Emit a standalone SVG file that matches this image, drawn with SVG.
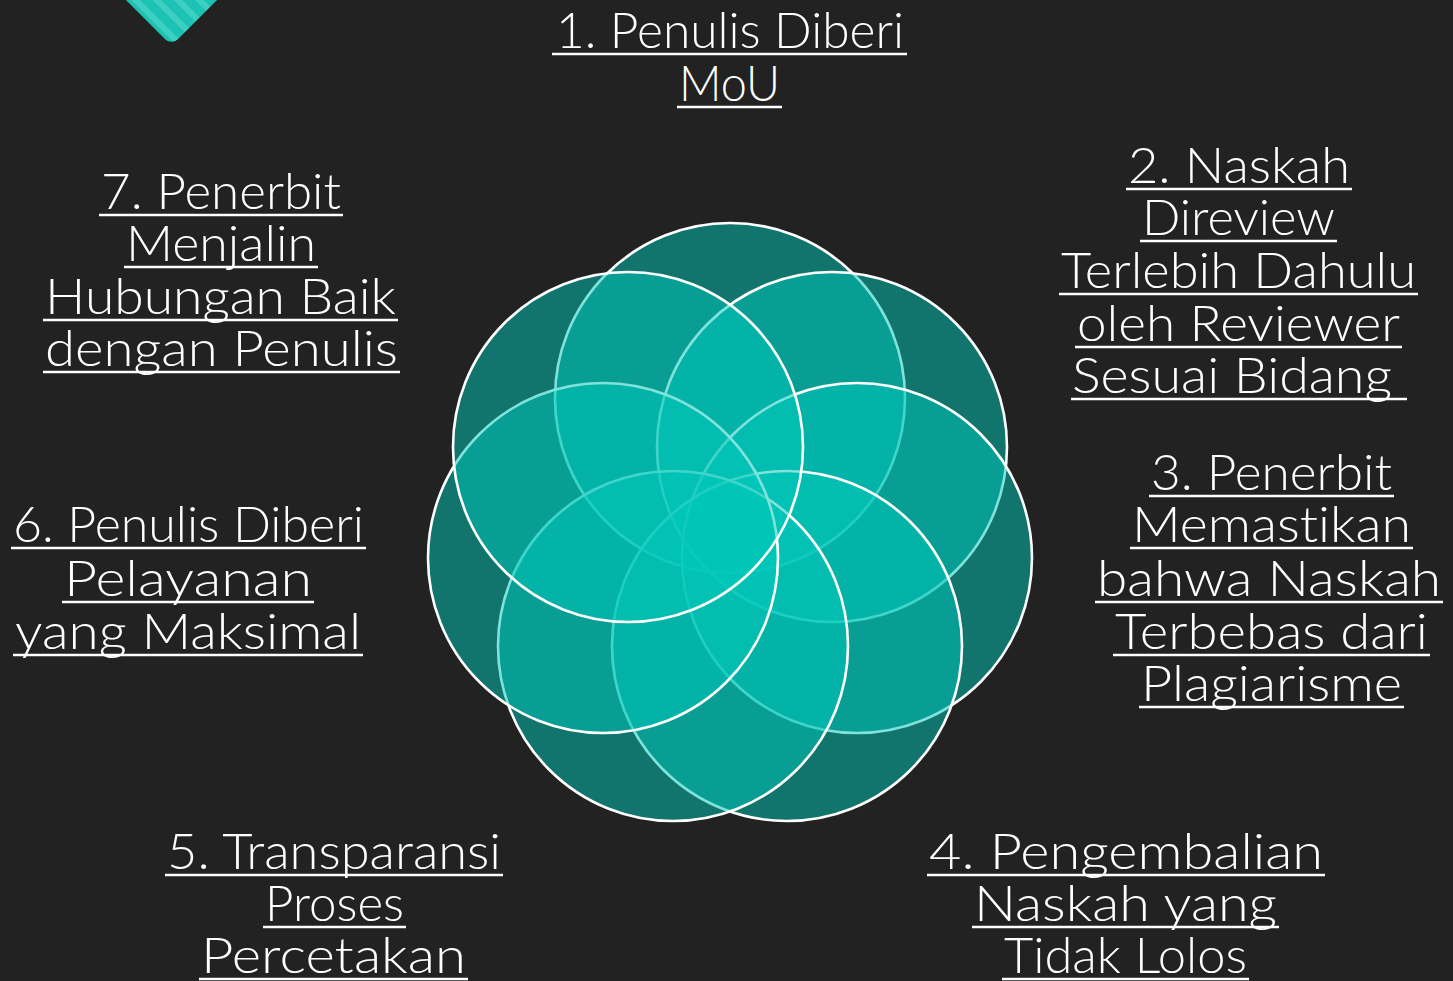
<svg xmlns="http://www.w3.org/2000/svg" width="1453" height="981" viewBox="0 0 1453 981">
<defs>
<style>
.bg{fill:#222222}
.petal{fill:#00c8ba;fill-opacity:0.5;stroke:#ffffff;stroke-width:2.6}
.lbl{font-family:Lato,"Liberation Sans",Arial,sans-serif;font-weight:300;font-size:49px;fill:#ffffff;font-variant-ligatures:none}
.ul{stroke:#ffffff;stroke-width:2.6}
</style>
<pattern id="stripes" patternUnits="userSpaceOnUse" width="15" height="15">
<rect width="15" height="15" fill="#1cc2b3"/>
<rect width="15" height="6" fill="#3dd0c2"/>
</pattern>
</defs>
<rect class="bg" x="0" y="0" width="1453" height="981"/>
<g id="decor">
<rect x="121.5" y="-75.2" width="100" height="100" rx="9" fill="url(#stripes)" transform="rotate(45 171.5 -25.2)"/>
</g>
<g id="petals">
<circle id="c1" class="petal" cx="730" cy="398" r="175"/>
<circle id="c2" class="petal" cx="832" cy="447" r="175"/>
<circle id="c3" class="petal" cx="857" cy="558" r="175"/>
<circle id="c4" class="petal" cx="787" cy="646" r="175"/>
<circle id="c5" class="petal" cx="673" cy="646" r="175"/>
<circle id="c6" class="petal" cx="603" cy="558" r="175"/>
<circle id="c7" class="petal" cx="628" cy="447" r="175"/>
</g>
<g id="label1">
<text class="lbl" x="556" y="48" textLength="348" lengthAdjust="spacingAndGlyphs">1. Penulis Diberi</text>
<line class="ul" x1="552" y1="54" x2="907" y2="54"/>
<text class="lbl" x="679" y="101" textLength="101" lengthAdjust="spacingAndGlyphs">MoU</text>
<line class="ul" x1="677" y1="107" x2="782" y2="107"/>
</g>
<g id="label2">
<text class="lbl" x="1128" y="183" textLength="222" lengthAdjust="spacingAndGlyphs">2. Naskah</text>
<line class="ul" x1="1126" y1="189" x2="1352" y2="189"/>
<text class="lbl" x="1142" y="235" textLength="193" lengthAdjust="spacingAndGlyphs">Direview</text>
<line class="ul" x1="1140" y1="241" x2="1337" y2="241"/>
<text class="lbl" x="1061" y="288" textLength="355" lengthAdjust="spacingAndGlyphs">Terlebih Dahulu</text>
<line class="ul" x1="1059" y1="294" x2="1418" y2="294"/>
<text class="lbl" x="1077" y="341" textLength="323" lengthAdjust="spacingAndGlyphs">oleh Reviewer</text>
<line class="ul" x1="1075" y1="347" x2="1402" y2="347"/>
<text class="lbl" x="1072" y="393" textLength="320" lengthAdjust="spacingAndGlyphs">Sesuai Bidang</text>
<line class="ul" x1="1071" y1="399" x2="1407" y2="399"/>
</g>
<g id="label3">
<text class="lbl" x="1151" y="490" textLength="241" lengthAdjust="spacingAndGlyphs">3. Penerbit</text>
<line class="ul" x1="1149" y1="496" x2="1394" y2="496"/>
<text class="lbl" x="1132" y="542" textLength="279" lengthAdjust="spacingAndGlyphs">Memastikan</text>
<line class="ul" x1="1130" y1="548" x2="1413" y2="548"/>
<text class="lbl" x="1097" y="596" textLength="344" lengthAdjust="spacingAndGlyphs">bahwa Naskah</text>
<line class="ul" x1="1095" y1="602" x2="1443" y2="602"/>
<text class="lbl" x="1115" y="649" textLength="313" lengthAdjust="spacingAndGlyphs">Terbebas dari</text>
<line class="ul" x1="1113" y1="655" x2="1430" y2="655"/>
<text class="lbl" x="1141" y="701" textLength="261" lengthAdjust="spacingAndGlyphs">Plagiarisme</text>
<line class="ul" x1="1139" y1="707" x2="1404" y2="707"/>
</g>
<g id="label4">
<text class="lbl" x="929" y="869" textLength="394" lengthAdjust="spacingAndGlyphs">4. Pengembalian</text>
<line class="ul" x1="927" y1="875" x2="1325" y2="875"/>
<text class="lbl" x="974" y="921" textLength="303" lengthAdjust="spacingAndGlyphs">Naskah yang</text>
<line class="ul" x1="972" y1="927" x2="1279" y2="927"/>
<text class="lbl" x="1004" y="973" textLength="243" lengthAdjust="spacingAndGlyphs">Tidak Lolos</text>
<line class="ul" x1="1002" y1="979" x2="1249" y2="979"/>
</g>
<g id="label5">
<text class="lbl" x="167" y="869" textLength="334" lengthAdjust="spacingAndGlyphs">5. Transparansi</text>
<line class="ul" x1="165" y1="875" x2="503" y2="875"/>
<text class="lbl" x="265" y="921" textLength="139" lengthAdjust="spacingAndGlyphs">Proses</text>
<line class="ul" x1="263" y1="927" x2="406" y2="927"/>
<text class="lbl" x="201" y="973" textLength="265" lengthAdjust="spacingAndGlyphs">Percetakan</text>
<line class="ul" x1="199" y1="979" x2="468" y2="979"/>
</g>
<g id="label6">
<text class="lbl" x="13" y="542" textLength="351" lengthAdjust="spacingAndGlyphs">6. Penulis Diberi</text>
<line class="ul" x1="11" y1="548" x2="366" y2="548"/>
<text class="lbl" x="64" y="596" textLength="248" lengthAdjust="spacingAndGlyphs">Pelayanan</text>
<line class="ul" x1="62" y1="602" x2="314" y2="602"/>
<text class="lbl" x="15" y="649" textLength="346" lengthAdjust="spacingAndGlyphs">yang Maksimal</text>
<line class="ul" x1="13" y1="655" x2="363" y2="655"/>
</g>
<g id="label7">
<text class="lbl" x="101" y="209" textLength="240" lengthAdjust="spacingAndGlyphs">7. Penerbit</text>
<line class="ul" x1="99" y1="215" x2="343" y2="215"/>
<text class="lbl" x="126" y="261" textLength="190" lengthAdjust="spacingAndGlyphs">Menjalin</text>
<line class="ul" x1="124" y1="267" x2="318" y2="267"/>
<text class="lbl" x="45" y="314" textLength="351" lengthAdjust="spacingAndGlyphs">Hubungan Baik</text>
<line class="ul" x1="43" y1="320" x2="398" y2="320"/>
<text class="lbl" x="45" y="366" textLength="353" lengthAdjust="spacingAndGlyphs">dengan Penulis</text>
<line class="ul" x1="43" y1="372" x2="400" y2="372"/>
</g>
</svg>
